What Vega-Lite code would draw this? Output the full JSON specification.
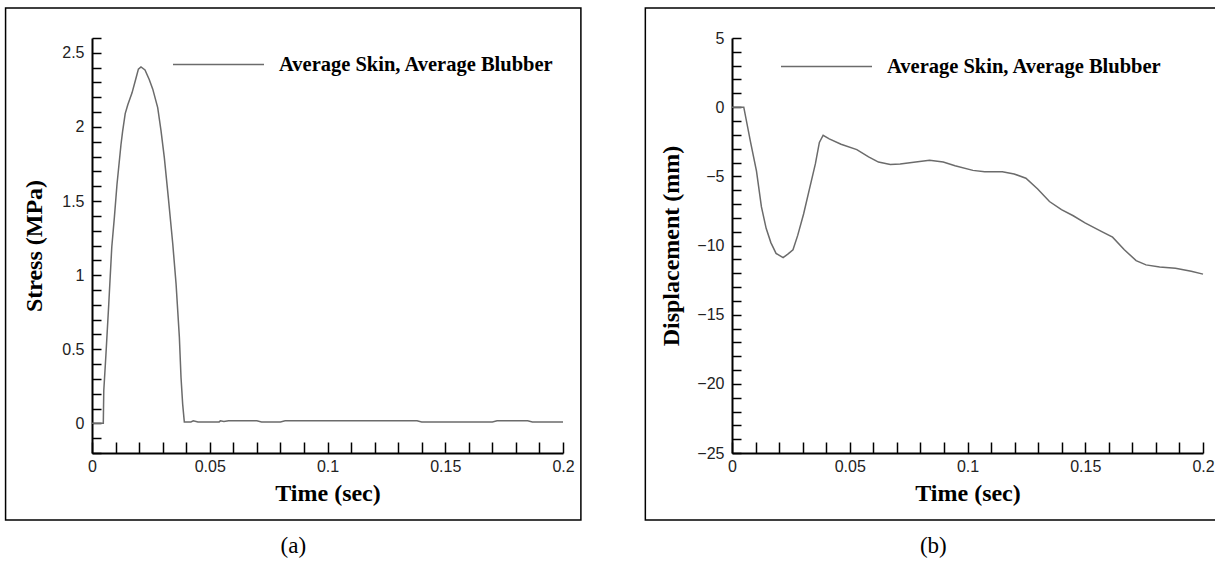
{
  "$schema": "https://vega.github.io/schema/vega-lite/v6.json",
  "background": "white",
  "padding": {"left": 4, "top": 7, "right": 0, "bottom": 0},
  "spacing": 62,
  "datasets": {
    "stress": [
      {"t": 0, "v": 0}, {"t": 0.0048, "v": 0}, {"t": 0.005, "v": 0.22}, {"t": 0.0059, "v": 0.46},
      {"t": 0.0071, "v": 0.8}, {"t": 0.0084, "v": 1.19}, {"t": 0.0095, "v": 1.39}, {"t": 0.0106, "v": 1.61},
      {"t": 0.0123, "v": 1.88}, {"t": 0.013, "v": 1.97}, {"t": 0.0141, "v": 2.09}, {"t": 0.0152, "v": 2.15},
      {"t": 0.017, "v": 2.23}, {"t": 0.0187, "v": 2.33}, {"t": 0.0197, "v": 2.39}, {"t": 0.0208, "v": 2.405},
      {"t": 0.0225, "v": 2.385}, {"t": 0.0243, "v": 2.32}, {"t": 0.0258, "v": 2.255}, {"t": 0.0279, "v": 2.13},
      {"t": 0.0293, "v": 1.975}, {"t": 0.0307, "v": 1.795}, {"t": 0.0324, "v": 1.525}, {"t": 0.0343, "v": 1.21},
      {"t": 0.0357, "v": 0.94}, {"t": 0.0371, "v": 0.58}, {"t": 0.0378, "v": 0.31}, {"t": 0.0385, "v": 0.13},
      {"t": 0.0392, "v": 0.01}, {"t": 0.042, "v": 0.01}, {"t": 0.043, "v": 0.017}, {"t": 0.045, "v": 0.01},
      {"t": 0.054, "v": 0.01}, {"t": 0.0545, "v": 0.017}, {"t": 0.056, "v": 0.013}, {"t": 0.058, "v": 0.017},
      {"t": 0.07, "v": 0.017}, {"t": 0.072, "v": 0.01}, {"t": 0.08, "v": 0.01}, {"t": 0.082, "v": 0.017},
      {"t": 0.12, "v": 0.017}, {"t": 0.138, "v": 0.017}, {"t": 0.14, "v": 0.01}, {"t": 0.17, "v": 0.01},
      {"t": 0.172, "v": 0.017}, {"t": 0.185, "v": 0.017}, {"t": 0.187, "v": 0.01}, {"t": 0.2, "v": 0.01}
    ],
    "disp": [
      {"t": 0, "v": 0}, {"t": 0.005, "v": 0}, {"t": 0.0079, "v": -2.55}, {"t": 0.0104, "v": -4.62},
      {"t": 0.0125, "v": -7.21}, {"t": 0.0145, "v": -8.76}, {"t": 0.0165, "v": -9.79}, {"t": 0.0187, "v": -10.57},
      {"t": 0.0217, "v": -10.88}, {"t": 0.0237, "v": -10.62}, {"t": 0.0259, "v": -10.31}, {"t": 0.0279, "v": -9.27},
      {"t": 0.0304, "v": -7.72}, {"t": 0.0329, "v": -5.91}, {"t": 0.0354, "v": -4.1}, {"t": 0.0371, "v": -2.55},
      {"t": 0.0387, "v": -2.03}, {"t": 0.0413, "v": -2.29}, {"t": 0.0463, "v": -2.68}, {"t": 0.053, "v": -3.07},
      {"t": 0.058, "v": -3.59}, {"t": 0.0622, "v": -3.97}, {"t": 0.0672, "v": -4.15}, {"t": 0.0714, "v": -4.1},
      {"t": 0.078, "v": -3.97}, {"t": 0.0839, "v": -3.84}, {"t": 0.0897, "v": -3.97}, {"t": 0.0947, "v": -4.23},
      {"t": 0.1023, "v": -4.57}, {"t": 0.1073, "v": -4.67}, {"t": 0.1148, "v": -4.67}, {"t": 0.1198, "v": -4.83},
      {"t": 0.1248, "v": -5.14}, {"t": 0.1298, "v": -5.91}, {"t": 0.1348, "v": -6.82}, {"t": 0.1399, "v": -7.41},
      {"t": 0.1449, "v": -7.85}, {"t": 0.1499, "v": -8.37}, {"t": 0.1566, "v": -8.96}, {"t": 0.1616, "v": -9.4},
      {"t": 0.1666, "v": -10.31}, {"t": 0.1716, "v": -11.09}, {"t": 0.1758, "v": -11.4}, {"t": 0.1816, "v": -11.55},
      {"t": 0.1883, "v": -11.65}, {"t": 0.195, "v": -11.86}, {"t": 0.2, "v": -12.07}
    ]
  },
  "config": {
    "view": {"stroke": null},
    "axis": {
      "grid": false,
      "domainColor": "black",
      "domainWidth": 2,
      "tickColor": "black",
      "tickWidth": 1.5,
      "labelFont": "Liberation Sans",
      "labelFontSize": 16,
      "labelColor": "#222222",
      "labelFlush": false,
      "labelOverlap": false,
      "labelBound": false,
      "titleFont": "Liberation Serif",
      "titleFontWeight": "bold",
      "titleFontSize": 24,
      "titleColor": "black"
    },
    "legend": {
      "orient": "none",
      "title": null,
      "padding": 0,
      "symbolType": "stroke",
      "symbolSize": 8281,
      "symbolStrokeWidth": 1.5,
      "labelFont": "Liberation Serif",
      "labelFontWeight": "bold",
      "labelFontSize": 20.5,
      "labelColor": "black",
      "labelOffset": 14,
      "labelLimit": 500
    }
  },
  "resolve": {"scale": {"color": "independent"}, "legend": {"color": "independent"}},
  "hconcat": [
    {
      "width": 471,
      "height": 415,
      "layer": [
        {
          "data": {"name": "stress"},
          "transform": [{"calculate": "'Average Skin, Average Blubber'", "as": "series"}],
          "mark": {"type": "line", "strokeWidth": 1.5},
          "encoding": {
            "x": {
              "field": "t", "type": "quantitative",
              "scale": {"domain": [0, 0.2], "nice": false, "zero": false},
              "axis": {
                "title": "Time (sec)",
                "values": [0,0.01,0.02,0.03,0.04,0.05,0.06,0.07,0.08,0.09,0.1,0.11,0.12,0.13,0.14,0.15,0.16,0.17,0.18,0.19,0.2],
                "tickCount": 200,
                "labelExpr": "round(datum.value*100)%5==0 ? format(datum.value,'~g') : ''",
                "labelOverlap": false,
                "tickSize": -11,
                "encode": {"ticks": {"update": {"y2": {"signal": "round(datum.value*100)%5==0 ? -11 : -7"}}}},
                "labelPadding": 16,
                "titlePadding": 7
              }
            },
            "y": {
              "field": "v", "type": "quantitative",
              "scale": {"domain": [-0.2, 2.6], "nice": false, "zero": false},
              "axis": {
                "title": "Stress (MPa)",
                "values": [-0.2,-0.1,0,0.1,0.2,0.3,0.4,0.5,0.6,0.7,0.8,0.9,1,1.1,1.2,1.3,1.4,1.5,1.6,1.7,1.8,1.9,2,2.1,2.2,2.3,2.4,2.5,2.6],
                "tickCount": 200,
                "labelExpr": "round(datum.value*10)%5==0 ? format(datum.value,'~g') : ''",
                "labelOverlap": false,
                "tickSize": -9,
                "encode": {"ticks": {"update": {"x2": {"signal": "round(datum.value*10)%5==0 ? 9 : 5"}}}},
                "labelPadding": 17,
                "titlePadding": 15
              }
            },
            "color": {
              "field": "series", "type": "nominal",
              "scale": {"range": ["#6b6b6b"]},
              "legend": {"legendX": 80, "legendY": -20}
            }
          }
        },
        {
          "data": {"values": [{}]},
          "mark": {"type": "rect", "fill": null, "stroke": "black", "strokeWidth": 1.5},
          "encoding": {
            "x": {"datum": -0.0367, "type": "quantitative"},
            "x2": {"datum": 0.2076},
            "y": {"datum": 2.802, "type": "quantitative"},
            "y2": {"datum": -0.652}
          }
        },
        {
          "data": {"values": [{"label": "(a)"}]},
          "mark": {"type": "text", "font": "Liberation Serif", "fontSize": 23, "color": "black", "baseline": "middle", "align": "center"},
          "encoding": {
            "x": {"datum": 0.0855, "type": "quantitative"},
            "y": {"datum": -0.83, "type": "quantitative"},
            "text": {"field": "label"}
          }
        }
      ]
    },
    {
      "width": 471,
      "height": 415,
      "layer": [
        {
          "data": {"name": "disp"},
          "transform": [{"calculate": "'Average Skin, Average Blubber'", "as": "series"}],
          "mark": {"type": "line", "strokeWidth": 1.5},
          "encoding": {
            "x": {
              "field": "t", "type": "quantitative",
              "scale": {"domain": [0, 0.2], "nice": false, "zero": false},
              "axis": {
                "title": "Time (sec)",
                "values": [0,0.01,0.02,0.03,0.04,0.05,0.06,0.07,0.08,0.09,0.1,0.11,0.12,0.13,0.14,0.15,0.16,0.17,0.18,0.19,0.2],
                "tickCount": 200,
                "labelExpr": "round(datum.value*100)%5==0 ? format(datum.value,'~g') : ''",
                "labelOverlap": false,
                "tickSize": -11,
                "encode": {"ticks": {"update": {"y2": {"signal": "round(datum.value*100)%5==0 ? -11 : -7"}}}},
                "labelPadding": 16,
                "titlePadding": 7
              }
            },
            "y": {
              "field": "v", "type": "quantitative",
              "scale": {"domain": [-25, 5], "nice": false, "zero": false},
              "axis": {
                "title": "Displacement (mm)",
                "values": [-25,-24,-23,-22,-21,-20,-19,-18,-17,-16,-15,-14,-13,-12,-11,-10,-9,-8,-7,-6,-5,-4,-3,-2,-1,0,1,2,3,4,5],
                "tickCount": 200,
                "labelExpr": "datum.value%5==0 ? format(datum.value,'d') : ''",
                "labelOverlap": false,
                "tickSize": -9,
                "encode": {"ticks": {"update": {"x2": {"signal": "datum.value%5==0 ? 9 : 5"}}}},
                "labelPadding": 17,
                "titlePadding": 13
              }
            },
            "color": {
              "field": "series", "type": "nominal",
              "scale": {"range": ["#6b6b6b"]},
              "legend": {"legendX": 48, "legendY": -18}
            }
          }
        },
        {
          "data": {"values": [{}]},
          "mark": {"type": "rect", "fill": null, "stroke": "black", "strokeWidth": 1.5},
          "encoding": {
            "x": {"datum": -0.0368, "type": "quantitative"},
            "x2": {"datum": 0.2077},
            "y": {"datum": 7.169, "type": "quantitative"},
            "y2": {"datum": -29.84}
          }
        },
        {
          "data": {"values": [{"label": "(b)"}]},
          "mark": {"type": "text", "font": "Liberation Serif", "fontSize": 23, "color": "black", "baseline": "middle", "align": "center"},
          "encoding": {
            "x": {"datum": 0.0855, "type": "quantitative"},
            "y": {"datum": -31.72, "type": "quantitative"},
            "text": {"field": "label"}
          }
        }
      ]
    }
  ]
}
